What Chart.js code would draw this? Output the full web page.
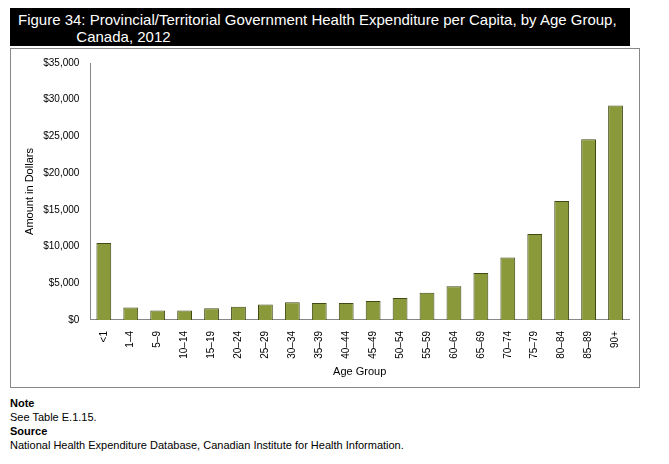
<!DOCTYPE html>
<html>
<head>
<meta charset="utf-8">
<script src="https://cdn.jsdelivr.net/npm/chart.js@4"></script>
<style>
  body { margin: 0; background: #fff; font-family: "Liberation Sans", Arial, sans-serif; }
  #title { position: absolute; left: 10px; top: 8px; width: 620px; height: 38px; background: #000; color: #fff;
           font-size: 15px; line-height: 17px; padding: 3px 0 0 8px; box-sizing: border-box; }
  #box { position: absolute; left: 10px; top: 48px; width: 630px; height: 340px; border: 1px solid #888; box-sizing: border-box; }
  #notes { position: absolute; left: 10px; top: 396px; font-size: 11px; line-height: 14px; color: #000; }
</style>
</head>
<body>
<div id="title">Figure 34: Provincial/Territorial Government Health Expenditure per Capita, by Age Group,<br>&nbsp;&nbsp;&nbsp;&nbsp;&nbsp;&nbsp;&nbsp;&nbsp;&nbsp;&nbsp;&nbsp;&nbsp;&nbsp;&nbsp;Canada, 2012</div>
<div id="box"><canvas id="chart" width="628" height="338"></canvas></div>
<div id="notes"><b>Note</b><br>See Table E.1.15.<br><b>Source</b><br>National Health Expenditure Database, Canadian Institute for Health Information.</div>
<script>
// Chart data
const ageGroups = ['<1', '1–4', '5–9', '10–14', '15–19', '20–24', '25–29', '30–34', '35–39', '40–44',
    '45–49', '50–54', '55–59', '60–64', '65–69', '70–74', '75–79', '80–84', '85–89', '90+'];
const spending = [10500, 1700, 1300, 1300, 1600, 1800, 2100, 2400, 2300, 2300,
    2600, 3000, 3700, 4600, 6400, 8500, 11700, 16200, 24600, 29200];

new Chart(document.getElementById('chart'), {
    type: 'bar',
    data: {
        labels: ageGroups,
        datasets: [{
            data: spending,
            backgroundColor: '#8a9a3a',
            borderColor: '#3f4a14',
            borderWidth: 1,
            categoryPercentage: 1,
            barPercentage: 0.55
        }]
    },
    options: {
        responsive: false,
        animation: false,
        layout: { padding: { top: 14, right: 10, left: 8, bottom: 4 } },
        plugins: { legend: { display: false }, tooltip: { enabled: false } },
        scales: {
            x: {
                grid: { display: false },
                border: { color: '#888' },
                ticks: { color: '#000', font: { size: 10, family: 'Liberation Sans' }, minRotation: 90, maxRotation: 90 },
                title: { display: true, text: 'Age Group', color: '#000', font: { size: 11, family: 'Liberation Sans' } }
            },
            y: {
                min: 0, max: 35000,
                grid: { display: false },
                border: { color: '#888' },
                ticks: {
                    stepSize: 5000, color: '#000', font: { size: 10, family: 'Liberation Sans' },
                    callback: v => '$' + v.toLocaleString('en-US')
                },
                title: { display: true, text: 'Amount in Dollars', color: '#000', font: { size: 11, family: 'Liberation Sans' } }
            }
        }
    }
});
</script>
</body>
</html>
